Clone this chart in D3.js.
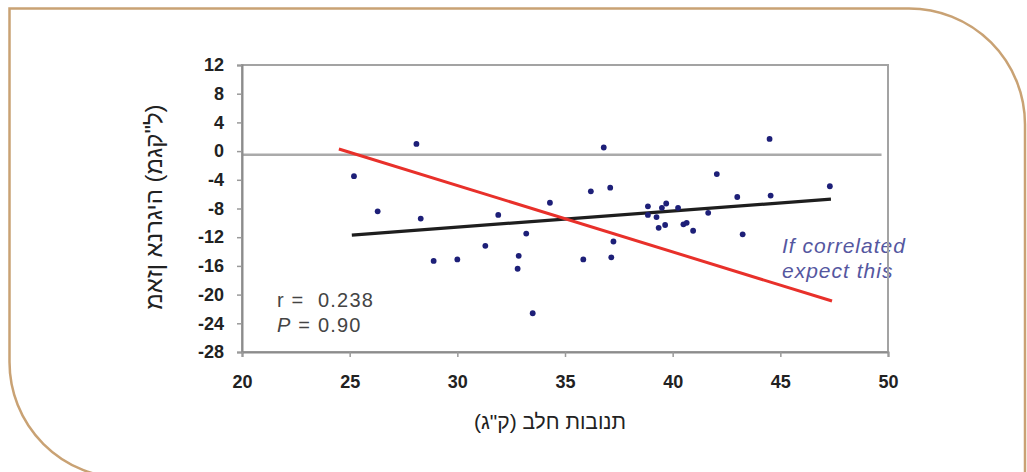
<!DOCTYPE html>
<html>
<head>
<meta charset="utf-8">
<script src="https://cdn.jsdelivr.net/npm/d3@7"></script>
<style>
  html, body { margin: 0; padding: 0; background: #fff; }
  svg { display: block; }
</style>
</head>
<body>
<svg id="chart" width="1027" height="472"></svg>
<script>
// Milk yield (kg) against energy balance (Mcal) per cow
const milkYield = [25.2, 26.3, 28.1, 28.3, 28.9, 30.0, 31.3, 31.9, 32.85, 32.8, 33.2, 33.5, 34.3,
  36.8, 36.2, 37.1, 35.85, 37.15, 37.25, 38.85, 38.85, 39.25, 39.5, 39.7, 40.25, 39.35, 39.65,
  40.5, 40.65, 40.95, 41.65, 42.05, 43.0, 43.25, 44.5, 44.55, 47.3];
const energyBalance = [-3.5, -8.4, 1.0, -9.4, -15.3, -15.1, -13.2, -8.9, -14.6, -16.4, -11.5, -22.6, -7.2,
  0.5, -5.6, -5.1, -15.1, -14.8, -12.6, -7.7, -8.9, -9.2, -7.9, -7.3, -7.9, -10.7, -10.3,
  -10.2, -10.0, -11.1, -8.6, -3.2, -6.4, -11.6, 1.7, -6.2, -4.9];

// Fitted line (observed) and the line expected if the two were correlated
const fitX = [25.1, 47.35];
const fitY = [-11.7, -6.7];
const expectedX = [24.5, 47.4];
const expectedY = [0.3, -20.9];
const baselineY = -0.5;

const xTicks = [20, 25, 30, 35, 40, 45, 50];
const yTicks = [12, 8, 4, 0, -4, -8, -12, -16, -20, -24, -28];

const xTitle = 'תנובות חלב (ק"ג)';
const yTitle = 'מאזן אנרגיה (מגק"ל)';
const statR = "r =  0.238";
const statP = " = 0.90";
const noteLines = ["If correlated", "expect this"];

const svg = d3.select("#chart");
const font = "Liberation Sans, Arial, sans-serif";
const narrow = "Liberation Sans Narrow, Arial Narrow, Liberation Sans, sans-serif";

// Rounded outer panel
const pL = 9.5, pT = 8.5, pR = 1025, pB = 478, rad = 116;
svg.append("path")
  .attr("d", `M${pL},${pT} H${pR - rad} A${rad},${rad} 0 0 1 ${pR},${pT + rad} V${pB} H${pL + rad} A${rad},${rad} 0 0 1 ${pL},${pB - rad} Z`)
  .attr("fill", "none")
  .attr("stroke", "#c9a274")
  .attr("stroke-width", 2.5);

const x = d3.scaleLinear().domain([20, 50]).range([242, 888]);
const y = d3.scaleLinear().domain([-28, 12]).range([352, 65]);

// Zero reference line
svg.append("line")
  .attr("x1", x(20)).attr("x2", x(49.7))
  .attr("y1", y(baselineY)).attr("y2", y(baselineY))
  .attr("stroke", "#aaaaaa").attr("stroke-width", 2.5);

const line = d3.line().x(d => x(d[0])).y(d => y(d[1]));

// Observed regression
svg.append("path")
  .attr("d", line(d3.zip(fitX, fitY)))
  .attr("stroke", "#1e1e1e").attr("stroke-width", 3.2).attr("fill", "none");

// Expected relationship
svg.append("path")
  .attr("d", line(d3.zip(expectedX, expectedY)))
  .attr("stroke", "#e8302a").attr("stroke-width", 3).attr("fill", "none");

// Cows
svg.append("g").selectAll("circle")
  .data(d3.zip(milkYield, energyBalance))
  .join("circle")
  .attr("cx", d => x(d[0]))
  .attr("cy", d => y(d[1]))
  .attr("r", 2.9)
  .attr("fill", "#1d1f78");

// Statistics
svg.append("text")
  .attr("x", 277).attr("y", 307)
  .attr("fill", "#444")
  .style("font-family", font).style("font-size", "20px")
  .style("letter-spacing", "1.2px")
  .style("white-space", "pre")
  .text(statR);
const pText = svg.append("text")
  .attr("x", 277).attr("y", 332)
  .attr("fill", "#444")
  .style("font-family", font).style("font-size", "20px")
  .style("letter-spacing", "1.2px")
  .style("white-space", "pre");
pText.append("tspan").style("font-style", "italic").text("P");
pText.append("tspan").text(statP);

// Note
svg.append("text")
  .attr("fill", "#55579f")
  .style("font-family", font).style("font-size", "21px").style("font-style", "italic")
  .style("letter-spacing", "1px")
  .selectAll("tspan")
  .data(noteLines)
  .join("tspan")
  .attr("x", 782)
  .attr("y", (d, i) => 253 + i * 25)
  .text(d => d);

// Plot area border, drawn over the note
svg.append("rect")
  .attr("x", x(20)).attr("y", y(12))
  .attr("width", x(50) - x(20)).attr("height", y(-28) - y(12))
  .attr("fill", "none").attr("stroke", "#a3a3a3").attr("stroke-width", 2);

// Axes
const yAxis = svg.append("g")
  .attr("transform", `translate(${x(20)},0)`)
  .call(d3.axisLeft(y).tickValues(yTicks).tickSize(5).tickPadding(13).tickFormat(d => String(d)));
const xAxis = svg.append("g")
  .attr("transform", `translate(0,${y(-28)})`)
  .call(d3.axisBottom(x).tickValues(xTicks).tickSize(5).tickPadding(18).tickFormat(d => String(d)));

[xAxis, yAxis].forEach(g => {
  g.select(".domain").attr("stroke", "#8c8c8c").attr("stroke-width", 2);
  g.selectAll(".tick line").attr("stroke", "#9a9a9a").attr("stroke-width", 1.5);
  g.selectAll(".tick text")
    .attr("fill", "#222")
    .style("font-family", narrow)
    .style("font-size", "18px")
    .style("font-weight", "bold");
});

// Axis titles
svg.append("text")
  .attr("x", 550).attr("y", 429)
  .attr("text-anchor", "middle")
  .attr("fill", "#222")
  .style("font-family", font).style("font-size", "21px")
  .text(xTitle);

svg.append("text")
  .attr("transform", "translate(162,207) rotate(-90)")
  .attr("text-anchor", "middle")
  .attr("fill", "#222")
  .attr("direction", "ltr")
  .attr("unicode-bidi", "bidi-override")
  .style("direction", "ltr")
  .style("unicode-bidi", "bidi-override")
  .style("font-family", font).style("font-size", "24px")
  .text(yTitle);
</script>
</body>
</html>
